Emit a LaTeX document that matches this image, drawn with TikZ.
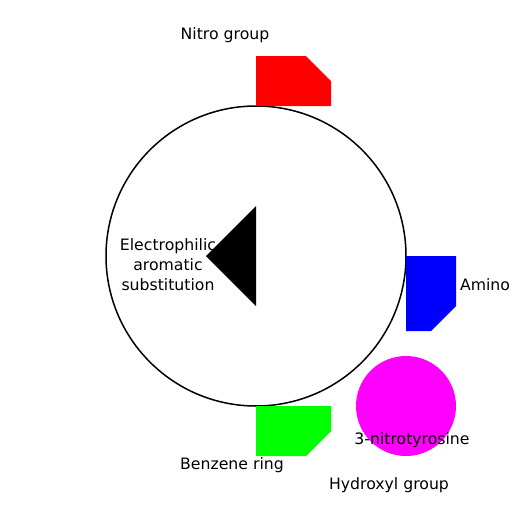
\documentclass[tikz,border=0pt]{standalone}
\usepackage{fontspec}
\setmainfont{DejaVu Sans}
\usepackage{tikz}
\usetikzlibrary{positioning}

\definecolor{nitrored}{RGB}{255,0,0}
\definecolor{aminoblue}{RGB}{0,0,255}
\definecolor{ringgreen}{RGB}{0,255,0}
\definecolor{tyrmagenta}{RGB}{255,0,255}

\begin{document}
\begin{tikzpicture}[
        x=1pt, y=-1pt,
        label/.style={inner sep=0pt, font=\fontsize{15.7}{20}\selectfont, align=center}
    ]

    \useasboundingbox (0,0) rectangle (512,512);

    % Ring
    \draw[line width=1.5pt] (256,256) circle[radius=150];

    % Groups
    \fill[nitrored]   (256,56) -- (306,56) -- (331,81) -- (331,106) -- (256,106) -- cycle;
    \fill[aminoblue]  (406,256) -- (456,256) -- (456,306) -- (431,331) -- (406,331) -- cycle;
    \fill[ringgreen]  (256,406) -- (331,406) -- (331,431) -- (306,456) -- (256,456) -- cycle;
    \fill[tyrmagenta] (406,406) circle[radius=50];

    % Wedge
    \fill[black] (256,206) -- (206,256) -- (256,306) -- cycle;

    % Labels
    \node[label] (nitro) at (225,35) {Nitro group};
    \node[label] (eas) at (168,265) {Electrophilic\\aromatic\\substitution};
    \node[label] (amino) at (485,285) {Amino};
    \node[label] (tyr) at (412,440) {3-nitrotyrosine};
    \node[label] (benz) at (232,465) {Benzene ring};
    \node[label] (hydro) at (389,485) {Hydroxyl group};

\end{tikzpicture}
\end{document}
